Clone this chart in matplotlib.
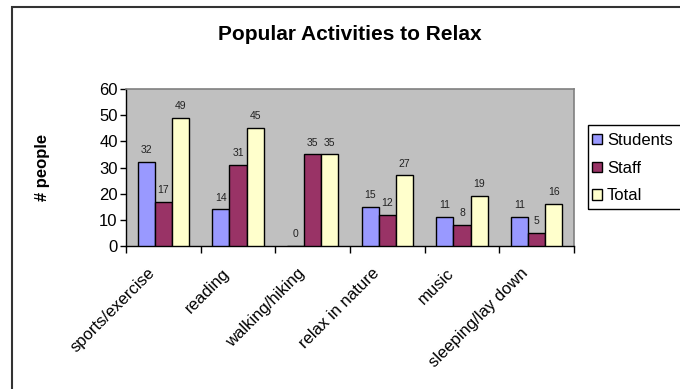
import matplotlib
matplotlib.use("Agg")
import matplotlib.pyplot as plt
from matplotlib.patches import Rectangle
from matplotlib.transforms import ScaledTranslation
import numpy as np

plt.rcParams["font.family"] = ["Liberation Sans", "DejaVu Sans"]

categories = ["sports/exercise", "reading", "walking/hiking",
              "relax in nature", "music", "sleeping/lay down"]
series_names = ["Students", "Staff", "Total"]
students = [32, 14, 0, 15, 11, 11]
staff = [17, 31, 35, 12, 8, 5]
total = [49, 45, 35, 27, 19, 16]
colors = ["#9999FF", "#993366", "#FFFFCC"]

W, H = 680, 389
fig = plt.figure(figsize=(W / 100, H / 100), dpi=100)
ax = fig.add_axes([126 / W, 1 - 246 / H, 448 / W, 157 / H])
ax.set_facecolor("#C0C0C0")

x = np.arange(len(categories))
w = 0.229
for j, (vals, col, name) in enumerate(zip([students, staff, total], colors, series_names)):
    pos = x + (j - 1) * w
    ax.bar(pos, vals, width=w, color=col, edgecolor="black", linewidth=1.0,
           label=name, zorder=3)
    for px, v in zip(pos, vals):
        ax.annotate(str(v), (px, v), xytext=(0, 8.5), textcoords="offset points",
                    ha="center", va="center", fontsize=7.5, color="#222222")

ax.set_xlim(-0.5, len(categories) - 0.5)
ax.set_ylim(0, 60)
ax.set_yticks(range(0, 61, 10))
ax.tick_params(axis="y", labelsize=12, length=4, width=1, direction="out", pad=2)

# tick marks between categories, labels at category centres
ax.set_xticks(np.arange(len(categories) + 1) - 0.5)
ax.set_xticklabels([])
ax.tick_params(axis="x", which="major", length=5, width=1, direction="out")
ax.set_xticks(x, minor=True)
ax.set_xticklabels(categories, minor=True, rotation=45, ha="right",
                   rotation_mode="anchor", fontsize=12)
ax.tick_params(axis="x", which="minor", length=0, pad=14)
shift = ScaledTranslation(-16 / 100, 0, fig.dpi_scale_trans)
for lbl in ax.get_xticklabels(minor=True):
    lbl.set_transform(lbl.get_transform() + shift)

for side in ["top", "right"]:
    ax.spines[side].set_color("#808080")
    ax.spines[side].set_linewidth(1.2)
for side in ["left", "bottom"]:
    ax.spines[side].set_color("black")
    ax.spines[side].set_linewidth(1.0)

fig.text(43 / W, 1 - 167 / H, "# people", rotation=90,
         ha="center", va="center", fontsize=12, fontweight="bold")

fig.text(350 / W, 1 - 35 / H, "Popular Activities to Relax",
         ha="center", va="center", fontsize=15, fontweight="bold")

leg = fig.legend(loc="upper left", bbox_to_anchor=(592 / W, 1 - 133 / H),
                 fontsize=12, frameon=False, borderpad=0,
                 handlelength=0.6, handleheight=0.6, handletextpad=0.3,
                 labelspacing=0.76, borderaxespad=0)
# legend frame drawn separately so its padding can be set freely
fig.patches.append(Rectangle((588 / W, 1 - 209 / H), 110 / W, 84 / H,
                             transform=fig.transFigure, fill=False,
                             edgecolor="black", linewidth=1.0))

# chart border (only top and left edges fall inside the image)
fig.patches.append(Rectangle((11.5 / W, -0.1), 1.2, 1 - 6.5 / H + 0.1,
                             transform=fig.transFigure, fill=False,
                             edgecolor="#333333", linewidth=1.5))

fig.savefig("out.png", dpi=100)
